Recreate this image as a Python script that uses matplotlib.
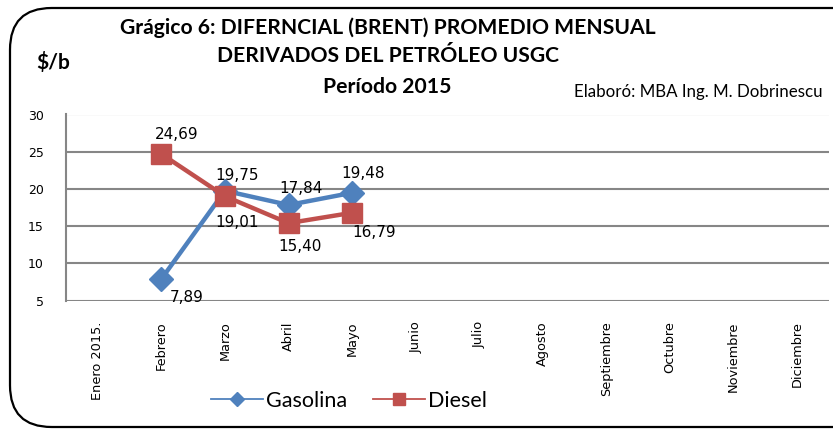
import matplotlib
matplotlib.use("Agg")
import matplotlib.pyplot as plt
from matplotlib.patches import FancyBboxPatch
from matplotlib.lines import Line2D
import numpy as np

months = ["Enero 2015.", "Febrero", "Marzo", "Abril", "Mayo", "Junio", "Julio",
          "Agosto", "Septiembre", "Octubre", "Noviembre", "Diciembre"]
gasolina = [np.nan, 7.89, 19.75, 17.84, 19.48] + [np.nan] * 7
diesel = [np.nan, 24.69, 19.01, 15.40, 16.79] + [np.nan] * 7
gas_offsets = [None, (18, -13), (9, 11), (9, 12), (8, 14)]
die_offsets = [None, (11, 14), (9, -19), (8, -17), (16, -14)]
yticks = [5, 10, 15, 20, 25, 30]

BLUE = "#4F81BD"
RED = "#C0504D"
GRID = "#868686"

fig = plt.figure(figsize=(8.33, 4.29), dpi=100)
W, H = 833, 429

# rounded outer border
border = FancyBboxPatch((10 / W, 2 / H), 900 / W, 419 / H,
                        boxstyle="round,pad=0,rounding_size=0.05",
                        transform=fig.transFigure, fill=False,
                        edgecolor="black", linewidth=1.6, mutation_aspect=W / H)
fig.patches.append(border)

ax = fig.add_axes([66 / W, 1 - 300.5 / H, (829 - 66) / W, (300.5 - 114.5) / H])
x = np.arange(len(months))
ax.set_xlim(-0.5, len(months) - 0.5)
ax.set_ylim(5, 30)
ax.set_yticks(yticks)
ax.set_yticklabels([str(v) for v in yticks], fontsize=9, family="DejaVu Sans")
ax.tick_params(axis="y", length=0, pad=16)
ax.set_xticks(x)
ax.set_xticklabels(months, rotation=90, fontsize=9.3, family="DejaVu Sans", va="top")
ax.tick_params(axis="x", length=0, pad=15)
for v in yticks:
    ax.axhline(v, color=GRID, lw=1.5, zorder=0)
for s in ["top", "right", "bottom"]:
    ax.spines[s].set_visible(False)
ax.spines["left"].set_color(GRID)
ax.spines["left"].set_linewidth(1.5)

ax.plot(x, gasolina, color=BLUE, lw=3.2, marker="D", ms=12, mfc=BLUE, mec=BLUE, zorder=3)
ax.plot(x, diesel, color=RED, lw=3.2, marker="s", ms=14, mfc=RED, mec=RED, zorder=4)

for i, v in enumerate(gasolina):
    if not np.isnan(v):
        ax.annotate(f"{v:.2f}".replace(".", ","), (x[i], v), xytext=gas_offsets[i],
                    textcoords="offset points", ha="center", va="center",
                    fontsize=11, family="DejaVu Sans", zorder=5)
for i, v in enumerate(diesel):
    if not np.isnan(v):
        ax.annotate(f"{v:.2f}".replace(".", ","), (x[i], v), xytext=die_offsets[i],
                    textcoords="offset points", ha="center", va="center",
                    fontsize=11, family="DejaVu Sans", zorder=5)

tf = dict(family="Lato", weight="bold", ha="center", va="center")
fig.text(388 / W, 1 - 28 / H, "Grágico 6: DIFERNCIAL (BRENT) PROMEDIO MENSUAL", fontsize=15.2, **tf)
fig.text(388 / W, 1 - 56 / H, "DERIVADOS DEL PETRÓLEO USGC", fontsize=15.2, **tf)
fig.text(387 / W, 1 - 87 / H, "Período 2015", fontsize=15.2, **tf)
fig.text(53 / W, 1 - 62 / H, "$/b", fontsize=15, **tf)
fig.text(823 / W, 1 - 92 / H, "Elaboró: MBA Ing. M. Dobrinescu", fontsize=12.2,
         family="Lato", ha="right", va="center")

handles = [Line2D([], [], color=BLUE, lw=1.3, marker="D", ms=7.5),
           Line2D([], [], color=RED, lw=1.3, marker="s", ms=8.5)]
fig.legend(handles, ["Gasolina", "Diesel"], loc="center", bbox_to_anchor=(349 / W, 1 - 401 / H),
           ncol=2, frameon=False, prop={"family": "Lato", "size": 15.5},
           handlelength=2.4, handletextpad=0.15, columnspacing=1.2)

fig.savefig("out.png", dpi=100)
